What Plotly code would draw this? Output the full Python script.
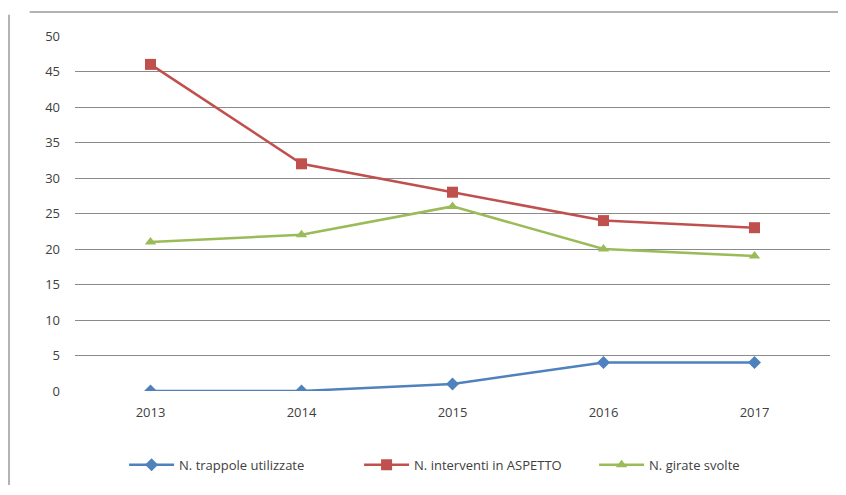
import plotly.graph_objects as go

years = ["2013", "2014", "2015", "2016", "2017"]
trappole = [0, 0, 1, 4, 4]
aspetto = [46, 32, 28, 24, 23]
girate = [21, 22, 26, 20, 19]
y_ticks = [0, 5, 10, 15, 20, 25, 30, 35, 40, 45, 50]

fig = go.Figure()
fig.add_trace(go.Scatter(x=years, y=trappole, name="N. trappole utilizzate", mode="lines+markers",
                         line=dict(color="#4F81BD", width=2.5),
                         marker=dict(symbol="diamond", size=10, color="#4F81BD")))
fig.add_trace(go.Scatter(x=years, y=aspetto, name="N. interventi in ASPETTO", mode="lines+markers",
                         line=dict(color="#C0504D", width=2.5),
                         marker=dict(symbol="square", size=11, color="#C0504D")))
fig.add_trace(go.Scatter(x=years, y=girate, name="N. girate svolte", mode="lines+markers",
                         line=dict(color="#9BBB59", width=2.5),
                         marker=dict(symbol="triangle-up", size=10, color="#9BBB59")))

fig.update_layout(
    width=838, height=487,
    margin=dict(l=67, r=16, t=28, b=104, autoexpand=False),
    paper_bgcolor="white", plot_bgcolor="white",
    font=dict(family="Open Sans, Liberation Sans, sans-serif", size=13, color="#404040"),
    xaxis=dict(type="category", range=[-0.5, 4.5], showgrid=False, showline=False,
               ticks="", tickfont=dict(size=13), ticklabelstandoff=12),
    yaxis=dict(range=[0, 50], tickvals=y_ticks, showgrid=True, gridcolor="#8a8a8a",
               gridwidth=1, zeroline=False, showline=False, ticks="",
               ticklabelstandoff=14, tickfont=dict(size=13)),
    legend=dict(orientation="h", x=0.065, xanchor="left", y=-0.208, yanchor="middle",
                font=dict(size=13, color="#404040"), itemwidth=45,
                entrywidth=175, entrywidthmode="pixels"),
    shapes=[
        dict(type="line", xref="paper", yref="paper", x0=-0.06, x1=1.03, y0=1.0676, y1=1.0676,
             line=dict(color="#999999", width=1.5)),
        dict(type="line", xref="paper", yref="paper", x0=-0.0874, x1=-0.0874, y0=1.06, y1=-0.265,
             line=dict(color="#999999", width=1.5)),
    ],
)

fig.write_html("out.html")
